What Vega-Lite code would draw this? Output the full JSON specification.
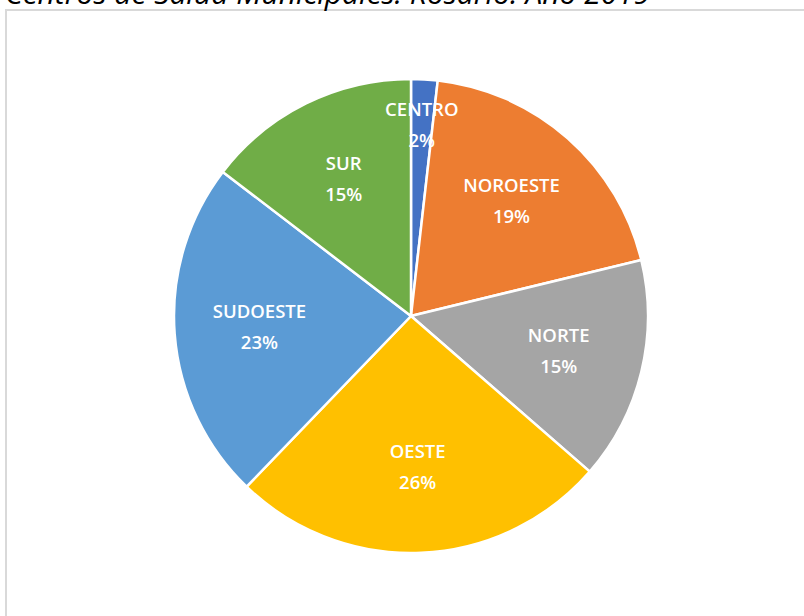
{
  "$schema": "https://vega.github.io/schema/vega-lite/v6.json",
  "autosize": "none",
  "padding": {"left": 6, "top": 10, "right": 0, "bottom": 0},
  "width": 810,
  "height": 612,
  "background": "white",
  "view": {"stroke": "#d9d9d9", "strokeWidth": 2, "fill": "white"},
  "title": {
    "text": "Centros de Salud Municipales. Rosario. Año 2019",
    "anchor": "start",
    "frame": "group",
    "font": "Open Sans",
    "fontStyle": "italic",
    "fontWeight": "normal",
    "fontSize": 30,
    "color": "#000000",
    "baseline": "alphabetic",
    "offset": 0,
    "dx": -1,
    "dy": 24
  },
  "data": {
    "values": [
      {"region": "CENTRO", "value": 1.8, "pct": "2%", "order": 1},
      {"region": "NOROESTE", "value": 19.4, "pct": "19%", "order": 2},
      {"region": "NORTE", "value": 15.2, "pct": "15%", "order": 3},
      {"region": "OESTE", "value": 25.8, "pct": "26%", "order": 4},
      {"region": "SUDOESTE", "value": 23.2, "pct": "23%", "order": 5},
      {"region": "SUR", "value": 14.6, "pct": "15%", "order": 6}
    ]
  },
  "encoding": {
    "theta": {"field": "value", "type": "quantitative", "stack": true},
    "order": {"field": "order", "type": "quantitative"}
  },
  "layer": [
    {
      "mark": {"type": "arc", "outerRadius": 237, "stroke": "#ffffff", "strokeWidth": 2.5},
      "encoding": {
        "color": {
          "field": "region",
          "type": "nominal",
          "scale": {
            "domain": ["CENTRO", "NOROESTE", "NORTE", "OESTE", "SUDOESTE", "SUR"],
            "range": ["#4472C4", "#ED7D31", "#A5A5A5", "#FFC000", "#5B9BD5", "#70AD47"]
          },
          "legend": null
        }
      }
    },
    {
      "mark": {"type": "text", "radius": 152, "dy": -15.5, "font": "Open Sans", "fontSize": 18.5, "fontWeight": 600, "fill": "#ffffff"},
      "encoding": {
        "text": {"field": "region"},
        "opacity": {"condition": {"test": "datum.region === 'CENTRO'", "value": 0}, "value": 1}
      }
    },
    {
      "mark": {"type": "text", "radius": 152, "dy": 15.5, "font": "Open Sans", "fontSize": 18.5, "fontWeight": 600, "fill": "#ffffff"},
      "encoding": {
        "text": {"field": "pct"},
        "opacity": {"condition": {"test": "datum.region === 'CENTRO'", "value": 0}, "value": 1}
      }
    },
    {
      "mark": {"type": "text", "radius": 191, "dy": -15.5, "font": "Open Sans", "fontSize": 18.5, "fontWeight": 600, "fill": "#ffffff"},
      "encoding": {
        "text": {"field": "region"},
        "opacity": {"condition": {"test": "datum.region === 'CENTRO'", "value": 1}, "value": 0}
      }
    },
    {
      "mark": {"type": "text", "radius": 191, "dy": 15.5, "font": "Open Sans", "fontSize": 18.5, "fontWeight": 600, "fill": "#ffffff"},
      "encoding": {
        "text": {"field": "pct"},
        "opacity": {"condition": {"test": "datum.region === 'CENTRO'", "value": 1}, "value": 0}
      }
    }
  ]
}
